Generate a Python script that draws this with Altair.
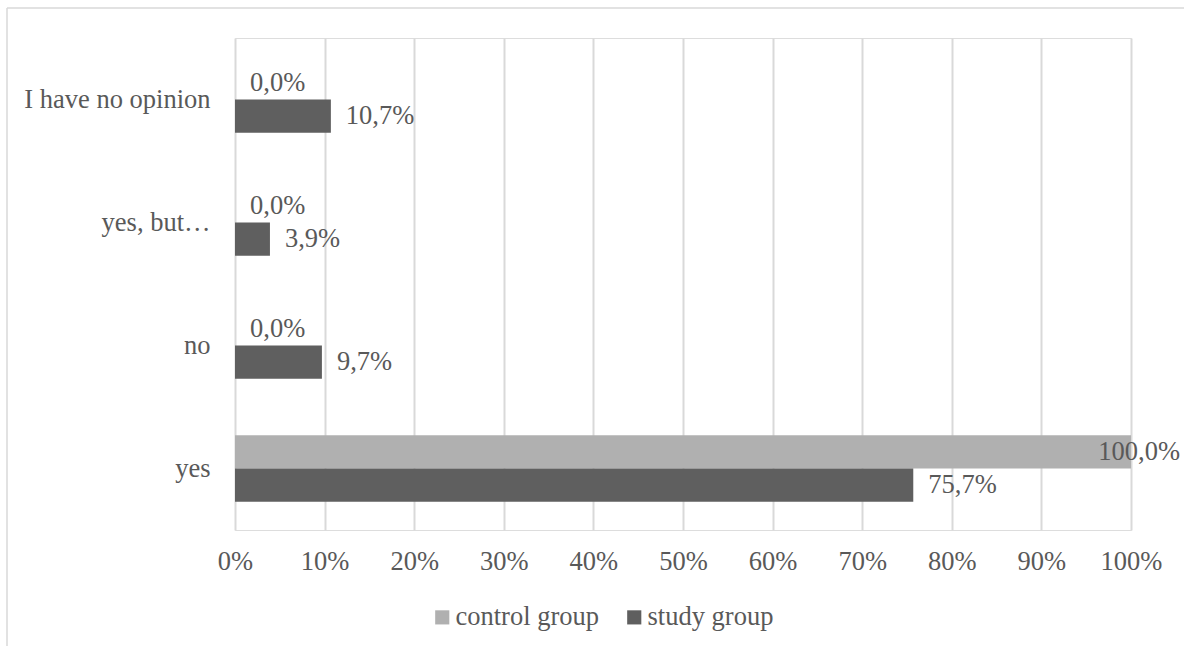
import altair as alt
import pandas as pd

categories = ["I have no opinion", "yes, but…", "no", "yes"]
groups = ["control group", "study group"]
control_values = [0.0, 0.0, 0.0, 100.0]
study_values = [10.7, 3.9, 9.7, 75.7]
x_ticks = [0, 10, 20, 30, 40, 50, 60, 70, 80, 90, 100]

rows = []
for c, cv, sv in zip(categories, control_values, study_values):
    for g, v in zip(groups, [cv, sv]):
        rows.append({"category": c, "group": g, "value": v,
                     "label": f"{v:.1f}".replace(".", ",") + "%"})
df = pd.DataFrame(rows)

FONT = "'Liberation Serif', 'Times New Roman', serif"
FS = 26.5
TXT = "#595959"
GRID = "#d9d9d9"

y_enc = alt.Y("category:N", sort=categories,
              scale=alt.Scale(paddingInner=0.46, paddingOuter=0.23),
              axis=alt.Axis(title=None, domain=False, ticks=False, labelPadding=25,
                            labelLimit=0, labelFontSize=FS, labelFont=FONT, labelColor=TXT))
yoff = alt.YOffset("group:N", sort=groups, scale=alt.Scale(paddingInner=0, paddingOuter=0))
x_scale = alt.Scale(domain=[0, 100], nice=False)

base = alt.Chart(df)

bars = base.mark_bar().encode(
    x=alt.X("value:Q", scale=x_scale,
            axis=alt.Axis(title=None, values=x_ticks, labelExpr="datum.value + '%'",
                          grid=True, gridColor=GRID, gridWidth=2, domain=False, ticks=False,
                          labelFlush=False, labelOverlap=False,
                          labelFontSize=FS, labelFont=FONT, labelColor=TXT, labelPadding=18)),
    y=y_enc,
    yOffset=yoff,
    color=alt.Color("group:N", sort=groups,
                    scale=alt.Scale(domain=groups, range=["#b0b0b0", "#5f5f5f"]),
                    legend=alt.Legend(title=None, orient="none", direction="horizontal",
                                      legendX=194, legendY=566, symbolType="square",
                                      symbolSize=200, symbolStrokeWidth=0,
                                      labelFontSize=FS, labelFont=FONT, labelColor=TXT,
                                      labelLimit=0, columnPadding=21, labelOffset=0)),
)

labels_small = base.transform_filter("datum.value < 100").mark_text(
    align="left", baseline="middle", dx=15, fontSize=FS, font=FONT, color=TXT
).encode(x=alt.X("value:Q", scale=x_scale), y=y_enc, yOffset=yoff, text="label:N")

labels_full = base.transform_filter("datum.value >= 100").mark_text(
    align="right", baseline="middle", dx=49, fontSize=FS, font=FONT, color=TXT
).encode(x=alt.X("value:Q", scale=x_scale), y=y_enc, yOffset=yoff, text="label:N")

border_top = alt.Chart(pd.DataFrame({"a": [0]})).mark_rule(color=GRID, strokeWidth=1.5).encode(
    x=alt.value(-228), x2=alt.value(960), y=alt.value(-30))
border_left = alt.Chart(pd.DataFrame({"a": [0]})).mark_rule(color=GRID, strokeWidth=1.5).encode(
    x=alt.value(-228), y=alt.value(-30), y2=alt.value(620))

chart = alt.layer(bars, labels_small, labels_full, border_top, border_left).properties(
    width=896, height=492,
    autosize=alt.AutoSizeParams(type="none"),
    padding={"left": 235, "top": 38, "right": 53, "bottom": 116},
).configure_view(stroke=None).configure(background="white")

chart.save("out.html", embed_options={"renderer": "svg", "actions": False})
